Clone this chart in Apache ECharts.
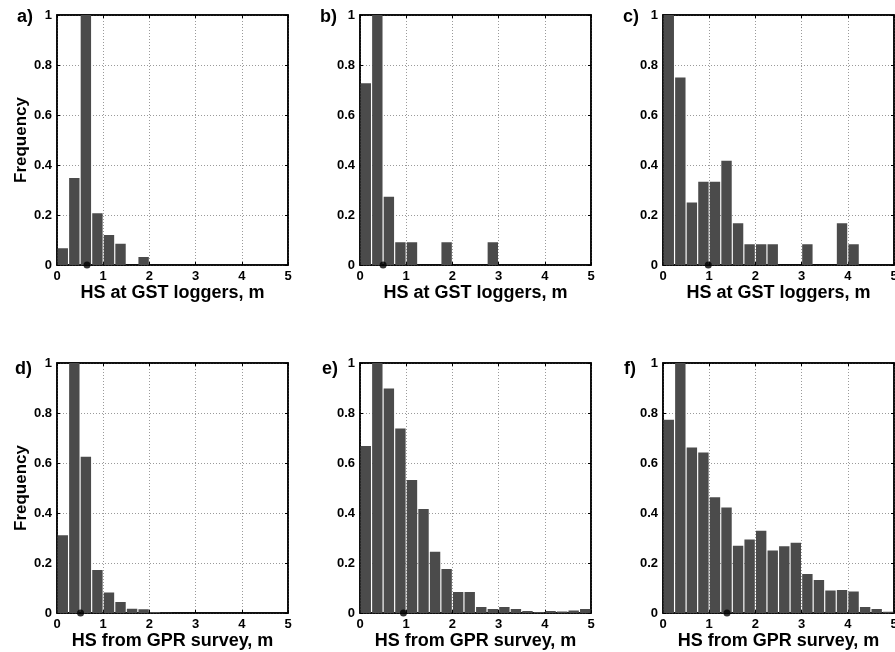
<!DOCTYPE html>
<html>
<head>
<meta charset="utf-8">
<script src="https://cdn.jsdelivr.net/npm/echarts@6/dist/echarts.min.js"></script>
<style>
  html, body { margin: 0; padding: 0; background: #fff; }
  #chart { width: 895px; height: 652px; }
</style>
</head>
<body>
<div id="chart"></div>
<script>
// histogram bins, 0.25 m wide
const BINS = ['0-0.25', '0.25-0.5', '0.5-0.75', '0.75-1', '1-1.25', '1.25-1.5', '1.5-1.75', '1.75-2',
  '2-2.25', '2.25-2.5', '2.5-2.75', '2.75-3', '3-3.25', '3.25-3.5', '3.5-3.75', '3.75-4',
  '4-4.25', '4.25-4.5', '4.5-4.75', '4.75-5'];

// HS at GST loggers
const freqA = [0.067, 0.348, 1, 0.207, 0.12, 0.085, 0, 0.032, 0, 0, 0, 0, 0, 0, 0, 0, 0, 0, 0, 0];
const freqB = [0.727, 1, 0.273, 0.091, 0.091, 0, 0, 0.091, 0, 0, 0, 0.091, 0, 0, 0, 0, 0, 0, 0, 0];
const freqC = [1, 0.75, 0.25, 0.333, 0.333, 0.417, 0.167, 0.083, 0.083, 0.083, 0, 0, 0.083, 0, 0, 0.167, 0.083, 0, 0, 0];
// HS from GPR survey
const freqD = [0.311, 1, 0.625, 0.172, 0.082, 0.044, 0.017, 0.015, 0.004, 0.001, 0, 0, 0, 0, 0, 0, 0, 0, 0, 0];
const freqE = [0.668, 1, 0.898, 0.738, 0.532, 0.416, 0.245, 0.176, 0.084, 0.084, 0.024, 0.016, 0.024, 0.016, 0.008, 0.004, 0.008, 0.006, 0.01, 0.016];
const freqF = [0.773, 1, 0.662, 0.642, 0.463, 0.422, 0.269, 0.294, 0.329, 0.25, 0.267, 0.281, 0.156, 0.132, 0.09, 0.092, 0.086, 0.024, 0.016, 0.005];

// mean HS markers on the x axis
const meanHS = [0.65, 0.5, 0.98, 0.51, 0.94, 1.385];

const LABELS = ['a)', 'b)', 'c)', 'd)', 'e)', 'f)'];
const X_NAMES = ['HS at GST loggers, m', 'HS at GST loggers, m', 'HS at GST loggers, m',
  'HS from GPR survey, m', 'HS from GPR survey, m', 'HS from GPR survey, m'];

const FONT = "'Liberation Sans', Arial, sans-serif";
const BAR_COLOR = '#4b4b4b';

const panels = [
  { data: freqA, left: 57, top: 15, lx: 12, ly: 3 },
  { data: freqB, left: 360, top: 15, lx: 315, ly: 3 },
  { data: freqC, left: 663, top: 15, lx: 618, ly: 3 },
  { data: freqD, left: 57, top: 363, lx: 10, ly: 355 },
  { data: freqE, left: 360, top: 363, lx: 317, ly: 355 },
  { data: freqF, left: 663, top: 363, lx: 619, ly: 355 }
];

const grid = [], xAxis = [], yAxis = [], series = [], title = [];

const tick = { show: true, inside: true, length: 3, lineStyle: { color: '#000', width: 1 } };
const line = { show: true, onZero: false, lineStyle: { color: '#000', width: 1.5 } };
const dotted = { show: true, lineStyle: { color: '#9a9a9a', type: [1, 2], width: 1 } };
const labelStyle = { color: '#000', fontFamily: FONT, fontWeight: 'bold', fontSize: 13 };

panels.forEach(function (p, i) {
  grid.push({
    left: p.left, top: p.top, width: 231, height: 250,
    show: true, borderColor: '#000', borderWidth: 1.5,
    containLabel: false, outerBoundsMode: 'none'
  });
  title.push({
    text: LABELS[i], left: p.lx, top: p.ly,
    textStyle: { color: '#000', fontFamily: FONT, fontWeight: 'bold', fontSize: 18 }
  });

  xAxis.push({
    gridIndex: i, type: 'value', min: 0, max: 5, interval: 1, position: 'bottom',
    axisLine: line, axisTick: tick, splitLine: dotted,
    axisLabel: Object.assign({ margin: 5 }, labelStyle),
    name: X_NAMES[i], nameLocation: 'middle', nameGap: 14,
    nameTextStyle: { color: '#000', fontFamily: FONT, fontWeight: 'bold', fontSize: 18 }
  });
  xAxis.push({
    gridIndex: i, type: 'value', min: 0, max: 5, interval: 1, position: 'top',
    axisLine: line, axisTick: tick, splitLine: { show: false }, axisLabel: { show: false }
  });
  xAxis.push({
    gridIndex: i, type: 'category', data: BINS, position: 'bottom', show: false
  });

  yAxis.push({
    gridIndex: i, type: 'value', min: 0, max: 1, interval: 0.2, position: 'left',
    axisLine: line, axisTick: tick, splitLine: dotted,
    axisLabel: Object.assign({ margin: 5 }, labelStyle),
    name: (i === 0 || i === 3) ? 'Frequency' : '',
    nameLocation: 'middle', nameGap: 24,
    nameTextStyle: { color: '#000', fontFamily: FONT, fontWeight: 'bold', fontSize: 17 }
  });
  yAxis.push({
    gridIndex: i, type: 'value', min: 0, max: 1, interval: 0.2, position: 'right',
    axisLine: line, axisTick: tick, splitLine: { show: false }, axisLabel: { show: false }
  });

  series.push({
    type: 'bar', xAxisIndex: 3 * i + 2, yAxisIndex: 2 * i,
    data: p.data, barCategoryGap: '10%',
    itemStyle: { color: BAR_COLOR }, silent: true, animation: false
  });
  series.push({
    type: 'scatter', xAxisIndex: 3 * i, yAxisIndex: 2 * i,
    data: [[meanHS[i], 0]], symbolSize: 7, clip: false, z: 10,
    itemStyle: { color: '#000' }, silent: true, animation: false
  });
});

const chart = echarts.init(document.getElementById('chart'), null, { renderer: 'canvas' });
chart.setOption({
  backgroundColor: '#fff',
  animation: false,
  title: title,
  grid: grid,
  xAxis: xAxis,
  yAxis: yAxis,
  series: series
});
</script>
</body>
</html>
